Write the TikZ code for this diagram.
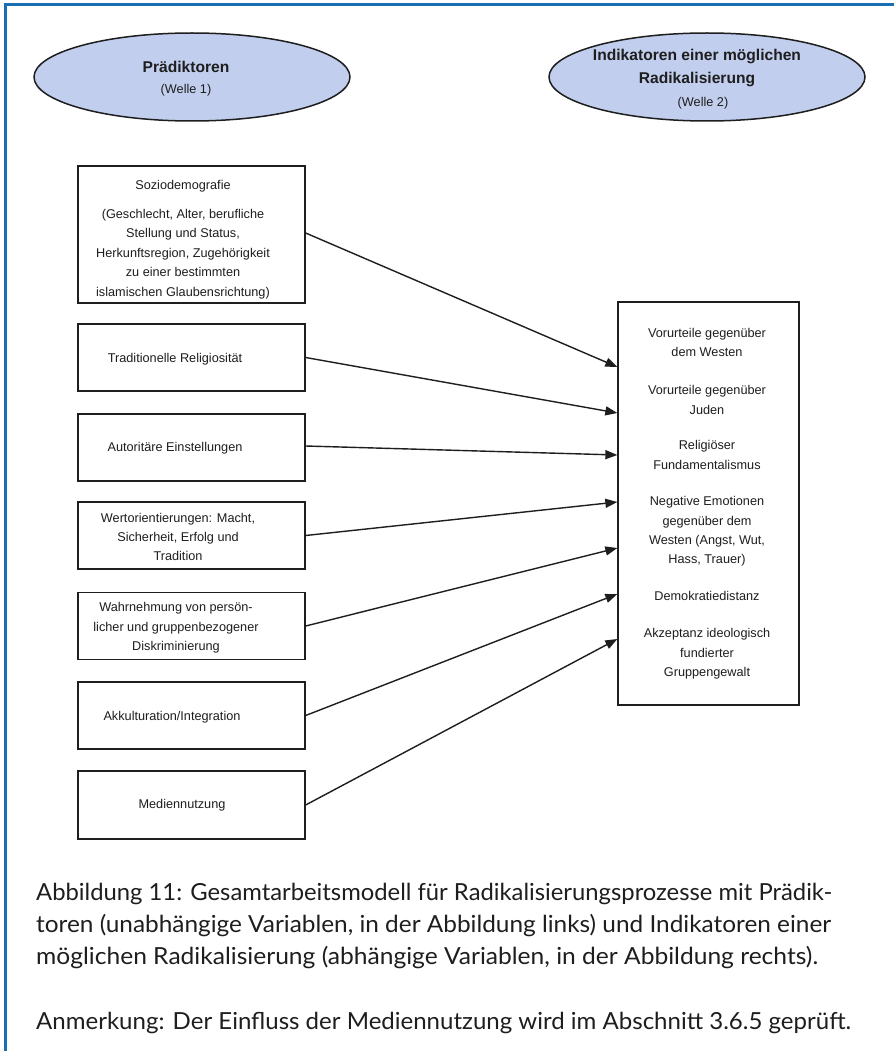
\documentclass[tikz,border=0pt]{standalone}
\usepackage{fontspec}
\usepackage{graphicx}
\setmainfont{Liberation Sans}
\newfontfamily\capfont{Lato}
\usetikzlibrary{shapes.geometric,arrows.meta}
\definecolor{frameblue}{RGB}{26,110,180}
\definecolor{ellfill}{RGB}{193,206,238}
\definecolor{ink}{RGB}{30,30,30}
\begin{document}
\begin{tikzpicture}[x=1pt,y=-1pt,
  ellnode/.style={ellipse, draw=ink, line width=1.5pt, fill=ellfill, minimum width=316pt, minimum height=88pt, inner sep=0pt},
  lbox/.style={draw=ink, line width=1.3pt, minimum width=227pt, minimum height=67pt, inner sep=0pt},
  rbox/.style={draw=ink, line width=1.3pt, minimum width=181pt, minimum height=403pt, inner sep=0pt},
  btext/.style={font=\fontsize{12.7}{19.4}\selectfont, text=ink, align=center, inner sep=0pt},
  ttext/.style={font=\fontsize{15.6}{23}\selectfont\bfseries, text=ink, align=center, inner sep=0pt},
  captext/.style={font=\capfont\fontsize{23.5}{23.5}\selectfont, text=ink, anchor=base west, inner sep=0pt},
  arr/.style={draw=ink, line width=1.4pt, -{Triangle[length=12pt,width=9pt]}}
]
\useasboundingbox (0,0) rectangle (894,1051);
\fill[white] (0,0) rectangle (894,1051);
\draw[frameblue, line width=3pt] (5.5,1051) -- (5.5,4.5) -- (894,4.5);

% ellipses
\node[ellnode] (e1) at (192,77) {};
\node[ttext] (e1t) at (186,67) {Prädiktoren};
\node[btext] (e1w) at (186,90) {(Welle 1)};
\node[ellnode] (e2) at (707,77) {};
\node[ttext] (e2t) at (697,68.5) {Indikatoren einer möglichen\\Radikalisierung};
\node[btext] (e2w) at (703,103) {(Welle 2)};

% left boxes
\node[lbox, minimum height=137pt] (b1) at (191.5,234.5) {};
\node[btext] (t1a) at (183,186) {Soziodemografie};
\node[btext] (t1b) at (183,254) {(Geschlecht, Alter, berufliche\\Stellung und Status,\\Herkunftsregion, Zugehörigkeit\\zu einer bestimmten\\islamischen Glaubensrichtung)};
\node[lbox] (b2) at (191.5,357.5) {};
\node[btext] (t2) at (175,359) {Traditionelle Religiosität};
\node[lbox] (b3) at (191.5,447.5) {};
\node[btext] (t3) at (175,448) {Autoritäre Einstellungen};
\node[lbox] (b4) at (191.5,535.5) {};
\node[btext] (t4) at (178,537) {Wertorientierungen: Macht,\\Sicherheit, Erfolg und\\Tradition};
\node[lbox] (b5) at (191.5,626) {};
\node[btext] (t5) at (176,628) {Wahrnehmung von persön-\\licher und gruppenbezogener\\Diskriminierung};
\node[lbox] (b6) at (191.5,715.5) {};
\node[btext] (t6) at (172,717) {Akkulturation/Integration};
\node[lbox, minimum height=68pt] (b7) at (191.5,805) {};
\node[btext] (t7) at (182,805) {Mediennutzung};

% right box
\node[rbox] (R) at (708.5,503.5) {};
\node[btext] (r1) at (707,342.5) {Vorurteile gegenüber\\dem Westen};
\node[btext] (r2) at (707,400) {Vorurteile gegenüber\\Juden};
\node[btext] (r3) at (707,455) {Religiöser\\Fundamentalismus};
\node[btext] (r4) at (707,531.5) {Negative Emotionen\\gegenüber dem\\Westen (Angst, Wut,\\Hass, Trauer)};
\node[btext] (r5) at (707,596) {Demokratiedistanz};
\node[btext] (r6) at (707,654) {Akzeptanz ideologisch\\fundierter\\Gruppengewalt};

% arrows
\draw[arr] ([yshift=1.5pt]b1.east) -- ([yshift=136.5pt]R.west);
\draw[arr] (b2.east) -- ([yshift=90.5pt]R.west);
\draw[arr] ([yshift=1.5pt]b3.east) -- ([yshift=48.5pt]R.west);
\draw[arr] (b4.east) -- ([yshift=1.5pt]R.west);
\draw[arr] (b5.east) -- ([yshift=-44.5pt]R.west);
\draw[arr] (b6.east) -- ([yshift=-90.5pt]R.west);
\draw[arr] (b7.east) -- ([yshift=-135.5pt]R.west);

% caption
\node[captext] (c1) at (36,900) {\resizebox{796pt}{\height}{Abbildung 11: Gesamtarbeitsmodell für Radikalisierungsprozesse mit Prädik-}};
\node[captext] (c2) at (36,932) {\resizebox{795pt}{\height}{toren (unabhängige Variablen, in der Abbildung links) und Indikatoren einer}};
\node[captext] (c3) at (36,964) {\resizebox{782pt}{\height}{möglichen Radikalisierung (abhängige Variablen, in der Abbildung rechts).}};
\node[captext] (c4) at (36,1029) {\resizebox{815pt}{\height}{Anmerkung: Der Einfluss der Mediennutzung wird im Abschnitt 3.6.5 geprüft.}};
\end{tikzpicture}
\end{document}
